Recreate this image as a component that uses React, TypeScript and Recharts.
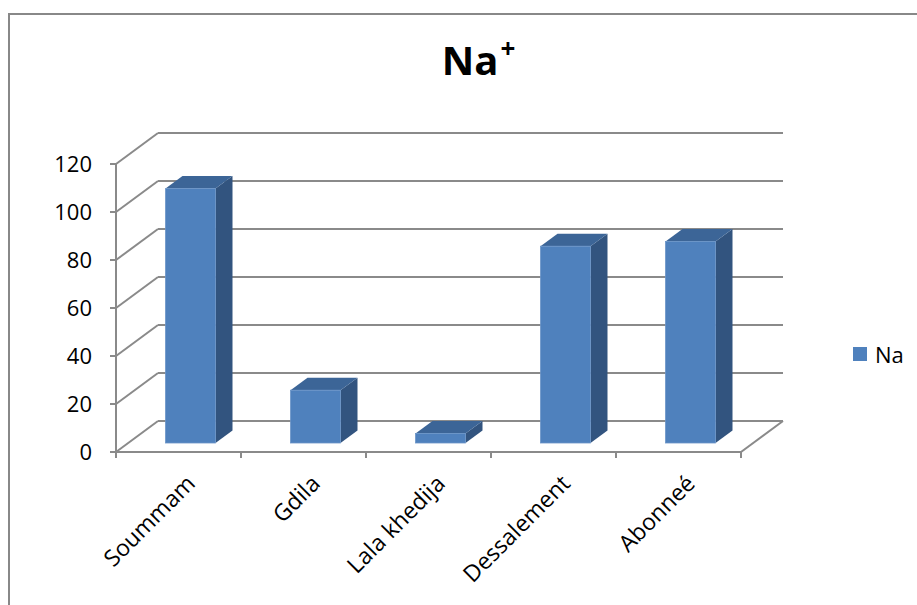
import React from "react"
import { Bar, BarChart, CartesianGrid, XAxis, YAxis } from "recharts"

const categories = ["Soummam", "Gdila", "Lala khedija", "Dessalement", "Abonneé"]
const naValues = [106, 22, 4, 82, 84]
const yTicks = [0, 20, 40, 60, 80, 100, 120]
const seriesName = "Na"

const data = categories.map((name, i) => ({ name, [seriesName]: naValues[i] }))

const FONT = "'Open Sans', 'Noto Sans', sans-serif"
const GRID = "#8a8a8a"
// depth of the 3D box and where the bars sit inside it
const DEPTH_X = 42
const DEPTH_Y = -31
const BAR_OFF_X = 12
const BAR_OFF_Y = -9
const BAR_DX = 17
const BAR_DY = -12.5

const PLOT_BOTTOM = 452

function Bar3D(props: any) {
  const { x, y, width, height } = props
  if (width == null || height == null) return null
  const l = x + BAR_OFF_X
  const r = l + width
  const top = y + BAR_OFF_Y
  const bottom = y + height + BAR_OFF_Y
  return (
    <g>
      <polygon
        points={`${r},${top} ${r + BAR_DX},${top + BAR_DY} ${r + BAR_DX},${bottom + BAR_DY} ${r},${bottom}`}
        fill="#32547f"
      />
      <polygon
        points={`${l},${top} ${l + BAR_DX},${top + BAR_DY} ${r + BAR_DX},${top + BAR_DY} ${r},${top}`}
        fill="#3c6597"
      />
      <rect x={l} y={top} width={width} height={bottom - top} fill="#4f81bd" stroke="#6b95c8" strokeWidth={0.8} />
    </g>
  )
}

function GridLine3D(props: any) {
  const { x1, x2, y1 } = props
  const isFloor = Math.abs(y1 - PLOT_BOTTOM) < 1
  const n = categories.length
  const step = (x2 - x1) / n
  return (
    <g>
      <line x1={x1 + DEPTH_X} y1={y1 + DEPTH_Y} x2={x2 + DEPTH_X} y2={y1 + DEPTH_Y} stroke={GRID} strokeWidth={2} />
      <line x1={x1} y1={y1} x2={x1 + DEPTH_X} y2={y1 + DEPTH_Y} stroke={GRID} strokeWidth={2} />
      {isFloor && (
        <g>
          <line x1={x1} y1={y1} x2={x2} y2={y1} stroke={GRID} strokeWidth={2} />
          <line x1={x2} y1={y1} x2={x2 + DEPTH_X} y2={y1 + DEPTH_Y} stroke={GRID} strokeWidth={2} />
          {categories.map((c, i) => (
            <line key={c} x1={x1 + step * (i + 1)} y1={y1} x2={x1 + step * (i + 1)} y2={y1 + 6} stroke={GRID} strokeWidth={2} />
          ))}
          <line x1={x1} y1={y1} x2={x1} y2={y1 + 6} stroke={GRID} strokeWidth={2} />
        </g>
      )}
    </g>
  )
}

function CategoryTick(props: any) {
  const { x, y, payload } = props
  return (
    <g transform={`translate(${x + 18},${y + 25})`}>
      <text textAnchor="end" transform="rotate(-45)" fill="#000" fontSize={23} fontFamily={FONT}>
        {payload.value}
      </text>
    </g>
  )
}

export default function App() {
  return (
    <div style={{ position: "fixed", inset: 0, overflow: "hidden", background: "#fff" }}>
      <div
        style={{
          position: "absolute",
          left: 8,
          top: 13,
          width: 1000,
          height: 700,
          borderLeft: "2px solid #888",
          borderTop: "2px solid #888",
        }}
      />
      <div
        style={{
          position: "absolute",
          left: 0,
          width: 917,
          top: 32,
          textAlign: "center",
          fontFamily: FONT,
          fontWeight: 700,
          fontSize: 40,
          color: "#000",
          paddingLeft: 20,
        }}
      >
        Na<sup style={{ fontSize: 26, verticalAlign: "top", position: "relative", top: -2, marginLeft: 2 }}>+</sup>
      </div>
      <div style={{ position: "absolute", left: 0, top: 0 }}>
        <BarChart
          width={917}
          height={605}
          data={data}
          margin={{ top: 164, right: 176, left: 66, bottom: 93 }}
          barCategoryGap="30%"
        >
          <CartesianGrid vertical={false} horizontal={(p: any) => <GridLine3D key={p.key} {...p} />} />
          <XAxis
            dataKey="name"
            axisLine={false}
            tickLine={false}
            height={60}
            interval={0}
            tick={<CategoryTick />}
          />
          <YAxis
            domain={[0, 120]}
            ticks={yTicks}
            width={50}
            axisLine={{ stroke: GRID, strokeWidth: 2 }}
            tickLine={{ stroke: GRID, strokeWidth: 2 }}
            tickSize={6}
            tickMargin={18}
            tick={{ fill: "#000", fontSize: 22, fontFamily: FONT }}
          />
          <Bar dataKey={seriesName} shape={<Bar3D />} isAnimationActive={false} />
        </BarChart>
      </div>
      <div
        style={{
          position: "absolute",
          left: 853,
          top: 339,
          display: "flex",
          alignItems: "center",
          fontFamily: FONT,
          fontSize: 22,
          color: "#000",
        }}
      >
        <span style={{ display: "inline-block", width: 14, height: 14, background: "#4f81bd", marginRight: 8 }} />
        {seriesName}
      </div>
    </div>
  )
}
